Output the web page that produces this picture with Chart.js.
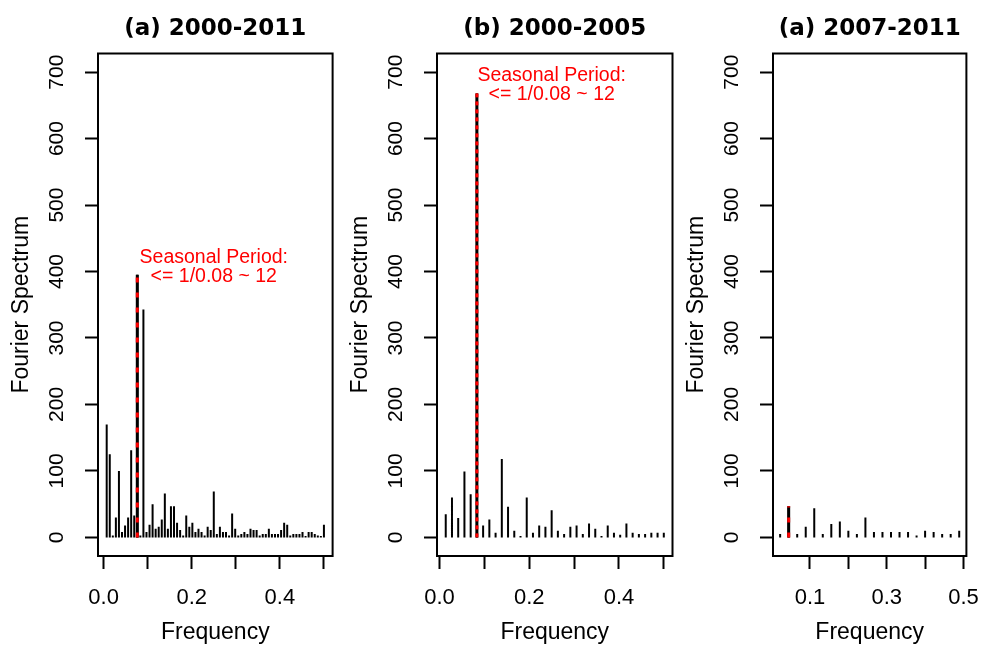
<!DOCTYPE html>
<html>
<head>
<meta charset="utf-8">
<script src="https://cdn.jsdelivr.net/npm/chart.js@4.4.0/dist/chart.umd.min.js"></script>
<style>
  html, body { margin: 0; padding: 0; background: #fff; }
  body { width: 995px; height: 646px; position: relative; overflow: hidden; }
  canvas { position: absolute; top: 0; }
</style>
</head>
<body>
<canvas id="p1" width="340" height="646" style="left:0px"></canvas>
<canvas id="p2" width="341" height="646" style="left:339px"></canvas>
<canvas id="p3" width="320" height="646" style="left:675px"></canvas>
<script>
// ------------------------------------------------------------------ DATA
// spectrum at the Fourier frequencies k / months, k = 1 .. months/2

const months1 = 144; // 2000-2011
const spec1 = [170, 125, 3, 30, 100, 8, 18, 30, 131, 33,
               395, 3, 343, 8, 19, 50, 13, 16, 27, 66,
               13, 47, 47, 22, 11, 3, 33, 16, 22, 8,
               13, 8, 3, 16, 11, 69, 5, 16, 8, 8,
               3, 36, 13, 3, 5, 8, 5, 13, 11, 11,
               3, 5, 5, 13, 5, 5, 5, 11, 22, 19,
               3, 5, 5, 5, 8, 2, 8, 8, 5, 3,
               2, 19];

const months2 = 72; // 2000-2005
const spec2 = [35, 60, 29, 99, 65, 668, 18, 27, 7, 118,
               46, 10, 2, 60, 7, 18, 16, 41, 10, 5,
               16, 18, 5, 21, 13, 2, 18, 7, 4, 21,
               7, 5, 5, 7, 7, 7];

const months3 = 45; // 2007-2011
const spec3 = [5, 47, 5, 16, 44, 5, 20, 24, 10, 5,
               30, 8, 8, 8, 8, 8, 3, 10, 8, 5,
               5, 10];

// k of the marked seasonal peak
const peak1 = 11;
const peak2 = 6;
const peak3 = 2;

const titles = ["(a) 2000-2011", "(b) 2000-2005", "(a) 2007-2011"];

const yTicks = [0, 100, 200, 300, 400, 500, 600, 700];
const xTicksAB = [0, 0.1, 0.2, 0.3, 0.4, 0.5];
const xLabelsAB = ["0.0", "", "0.2", "", "0.4", ""];
const xTicksC = [0.1, 0.2, 0.3, 0.4, 0.5];
const xLabelsC = ["0.1", "", "0.3", "", "0.5"];

const noteLines = ["Seasonal Period:", "<= 1/0.08 ~ 12"];
const noteX = 0.25;

// ------------------------------------------------------------------ HELPERS
const AXIS_FONT = "'Liberation Sans', Arial, sans-serif";

// vertical spikes like R's type = "h": (f,0)-(f,v) then a gap
function spikes(values, months) {
  const pts = [];
  values.forEach((v, i) => {
    const f = (i + 1) / months;
    pts.push({ x: f, y: 0 }, { x: f, y: v }, { x: f, y: null });
  });
  return pts;
}

function peakLine(values, months, k) {
  const f = k / months;
  return [{ x: f, y: 0 }, { x: f, y: values[k - 1] }];
}

// box round the plot region + rotated y tick labels + red note
function framePlugin(note) {
  return {
    id: "frame",
    afterDraw(chart) {
      const ctx = chart.ctx;
      const a = chart.chartArea;
      const ys = chart.scales.y;
      const xs = chart.scales.x;
      ctx.save();
      ctx.strokeStyle = "#000";
      ctx.lineWidth = 2;
      ctx.strokeRect(a.left, a.top, a.right - a.left, a.bottom - a.top);

      ctx.fillStyle = "#000";
      ctx.font = "21px " + AXIS_FONT;
      ctx.textAlign = "center";
      ctx.textBaseline = "middle";
      ys.ticks.forEach((t) => {
        ctx.save();
        ctx.translate(a.left - 41, ys.getPixelForValue(t.value));
        ctx.rotate(-Math.PI / 2);
        ctx.fillText(String(t.value), 0, 0);
        ctx.restore();
      });

      if (note) {
        ctx.fillStyle = "#ff0000";
        ctx.font = "19.5px " + AXIS_FONT;
        const cx = xs.getPixelForValue(noteX);
        const cy = ys.getPixelForValue(note.y);
        ctx.fillText(noteLines[0], cx, cy - 9.5);
        ctx.fillText(noteLines[1], cx, cy + 9.5);
      }
      ctx.restore();
    },
  };
}

function makePanel(id, p) {
  const ctx = document.getElementById(id);
  const peak = peakLine(p.values, p.months, p.peak);
  return new Chart(ctx, {
    type: "line",
    data: {
      datasets: [
        {
          data: peak,
          borderColor: "#ff0000",
          borderWidth: 3,
          borderDash: p.dash,
          borderCapStyle: "butt",
          pointRadius: 0,
          order: 1,
        },
        {
          data: peak,
          borderColor: "#000",
          borderWidth: 3,
          borderCapStyle: "butt",
          pointRadius: 0,
          order: 2,
        },
        {
          data: spikes(p.values, p.months),
          borderColor: "#000",
          borderWidth: 2,
          borderCapStyle: "butt",
          pointRadius: 0,
          spanGaps: false,
          order: 3,
        },
      ],
    },
    options: {
      responsive: false,
      maintainAspectRatio: false,
      animation: false,
      layout: { padding: { left: 0, right: p.padRight, top: 0, bottom: 0 } },
      plugins: {
        legend: { display: false },
        tooltip: { enabled: false },
        title: {
          display: true,
          text: p.title,
          fullSize: false,
          color: "#000",
          font: { family: "'DejaVu Sans', sans-serif", size: 23, weight: "bold" },
          padding: { top: 15.2, bottom: 10.7 },
        },
      },
      scales: {
        x: {
          type: "linear",
          min: p.xmin,
          max: p.xmax,
          afterBuildTicks: (s) => {
            s.ticks = p.xTicks.map((v) => ({ value: v }));
          },
          afterFit: (s) => {
            s.height = 90;
          },
          border: { display: false },
          grid: {
            drawOnChartArea: false,
            drawTicks: true,
            tickLength: 13,
            tickWidth: 2,
            tickColor: "#000",
          },
          ticks: {
            autoSkip: false,
            maxRotation: 0,
            padding: 15.8,
            color: "#000",
            font: { family: AXIS_FONT, size: 22 },
            callback: (v, i) => p.xLabels[i],
          },
          title: {
            display: true,
            text: "Frequency",
            color: "#000",
            font: { family: AXIS_FONT, size: 23 },
            padding: { top: 0, bottom: 0 },
          },
        },
        y: {
          type: "linear",
          min: -28,
          max: 728,
          afterBuildTicks: (s) => {
            s.ticks = yTicks.map((v) => ({ value: v }));
          },
          afterFit: (s) => {
            s.width = 98;
          },
          border: { display: false },
          grid: {
            drawOnChartArea: false,
            drawTicks: true,
            tickLength: 13,
            tickWidth: 2,
            tickColor: "#000",
          },
          ticks: { display: false },
          title: {
            display: true,
            text: "Fourier Spectrum",
            color: "#000",
            font: { family: AXIS_FONT, size: 23 },
            padding: { top: 8.2, bottom: 0 },
          },
        },
      },
    },
    plugins: [framePlugin(p.note)],
  });
}

// ------------------------------------------------------------------ PANELS
makePanel("p1", {
  values: spec1, months: months1, peak: peak1, title: titles[0],
  xmin: -0.0128, xmax: 0.5197, xTicks: xTicksAB, xLabels: xLabelsAB,
  dash: [5, 10], padRight: 4,
  note: { y: spec1[peak1 - 1] + 12 },
});

makePanel("p2", {
  values: spec2, months: months2, peak: peak2, title: titles[1],
  xmin: -0.0056, xmax: 0.5194, xTicks: xTicksAB, xLabels: xLabelsAB,
  dash: [4, 4], padRight: 7.5,
  note: { y: spec2[peak2 - 1] + 12 },
});

makePanel("p3", {
  values: spec3, months: months3, peak: peak3, title: titles[2],
  xmin: 0.0036, xmax: 0.5076, xTicks: xTicksC, xLabels: xLabelsC,
  dash: [5, 10], padRight: 13,
  note: null,
});
</script>
</body>
</html>
